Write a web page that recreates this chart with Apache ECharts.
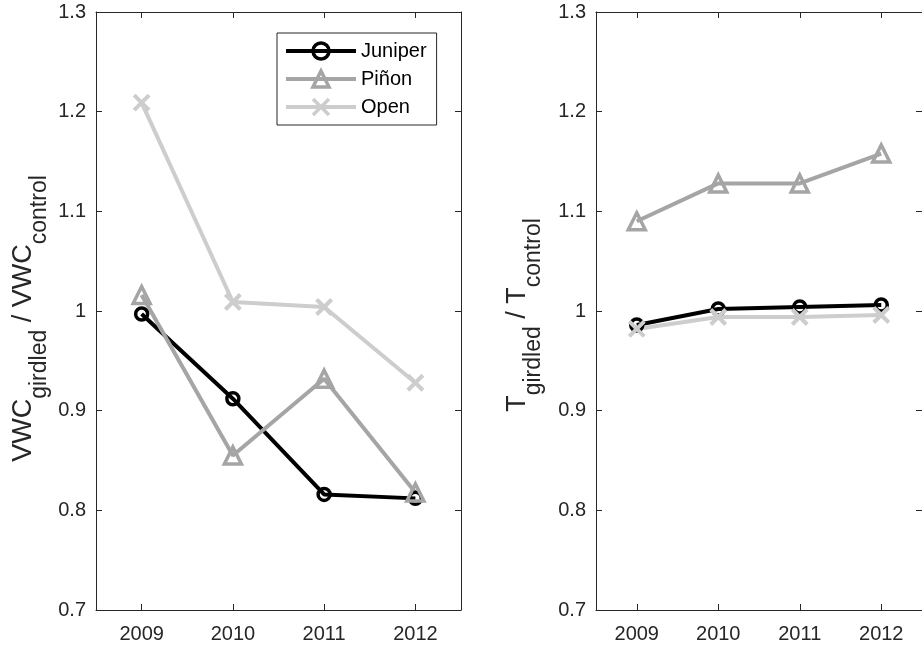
<!DOCTYPE html>
<html>
<head>
<meta charset="utf-8">
<script src="https://cdn.jsdelivr.net/npm/echarts@6/dist/echarts.min.js"></script>
<style>
html,body{margin:0;padding:0;background:#fff;}
#chart{width:922px;height:651px;}
</style>
</head>
<body>
<div id="chart"></div>
<script>
// ---- data ----
const years = ['2009', '2010', '2011', '2012'];
const seriesNames = ['Juniper', 'Piñon', 'Open'];
const vwcJuniper = [0.997, 0.912, 0.816, 0.812];
const vwcPinon   = [1.016, 0.855, 0.932, 0.818];
const vwcOpen    = [1.209, 1.009, 1.004, 0.928];
const tJuniper   = [0.986, 1.002, 1.004, 1.006];
const tPinon     = [1.090, 1.128, 1.128, 1.158];
const tOpen      = [0.982, 0.994, 0.994, 0.996];
const yTicks = { min: 0.7, max: 1.3, interval: 0.1 };

// ---- styles ----
const FONT = "'Liberation Sans', Arial, Helvetica, sans-serif";
const AX = '#262626';
const colors = ['#000000', '#a5a5a5', '#cdcdcd'];
const crossPath = 'path://M0,0L10,10M10,0L0,10';
const markers = [
  { symbol: 'circle', symbolSize: 12, borderWidth: 3.5 },
  { symbol: 'triangle', symbolSize: 17, borderWidth: 3.5 },
  { symbol: crossPath, symbolSize: 15, borderWidth: 4 }
];

const chart = echarts.init(document.getElementById('chart'), null, { renderer: 'canvas' });

const grids = [
  { left: 96, top: 12, width: 365, bottom: 41 },
  { left: 596, top: 12, width: 334, bottom: 41 }
];

function xAx(gi, top) {
  return {
    type: 'category', gridIndex: gi, data: years, boundaryGap: true,
    position: top ? 'top' : 'bottom',
    axisLine: { show: true, onZero: false, lineStyle: { color: AX, width: 1 } },
    axisTick: { show: true, inside: true, alignWithLabel: true, length: 6, lineStyle: { color: AX, width: 1 } },
    axisLabel: { show: !top, color: AX, fontSize: 20, fontFamily: FONT, margin: 14 },
    splitLine: { show: false }
  };
}
function richName(main1, sub1, main2, sub2, endStyle) {
  return '{m|' + main1 + '}{s|' + sub1 + '}{m| / ' + main2 + '}{' + endStyle + '|' + sub2 + '}';
}
const nameRich = {
  m: { fontSize: 27, fontFamily: FONT, color: AX },
  s: { fontSize: 23, fontFamily: FONT, color: AX, padding: [31, 0, 0, 0] },
  eL: { fontSize: 23, fontFamily: FONT, color: AX, padding: [31, 15, 0, 0] },
  eR: { fontSize: 23, fontFamily: FONT, color: AX, padding: [31, 8, 0, 0] }
};
function yAx(gi, right, name, gap) {
  return {
    type: 'value', gridIndex: gi,
    min: yTicks.min, max: yTicks.max, interval: yTicks.interval,
    position: right ? 'right' : 'left',
    name: right ? '' : name,
    nameLocation: 'middle', nameRotate: 90, nameGap: gap,
    nameTextStyle: { rich: nameRich },
    axisLine: { show: true, onZero: false, lineStyle: { color: AX, width: 1 } },
    axisTick: { show: true, inside: true, length: 6, lineStyle: { color: AX, width: 1 } },
    axisLabel: {
      show: !right, color: AX, fontSize: 20, fontFamily: FONT, margin: 10,
      formatter: v => String(+(+v).toFixed(1))
    },
    splitLine: { show: false }
  };
}

function mkSeries(name, idx, gi, data) {
  const m = markers[idx];
  return {
    name: name, type: 'line', xAxisIndex: gi, yAxisIndex: gi, data: data,
    symbol: m.symbol, symbolSize: m.symbolSize, showSymbol: true,
    lineStyle: { color: colors[idx], width: 4 },
    itemStyle: { color: 'rgba(255,255,255,0)', borderColor: colors[idx], borderWidth: m.borderWidth },
    emphasis: { disabled: true },
    animation: false
  };
}

const leftData = [vwcJuniper, vwcPinon, vwcOpen];
const rightData = [tJuniper, tPinon, tOpen];
const series = [];
seriesNames.forEach((n, i) => series.push(mkSeries(n, i, 0, leftData[i])));
seriesNames.forEach((n, i) => series.push(mkSeries(n, i, 1, rightData[i])));

const option = {
  backgroundColor: '#ffffff',
  animation: false,
  grid: grids,
  xAxis: [xAx(0, false), xAx(1, false), xAx(0, true), xAx(1, true)],
  yAxis: [
    yAx(0, false, richName('VWC', 'girdled', 'VWC', 'control', 'eL'), 45),
    yAx(1, false, richName('T', 'girdled', 'T', 'control', 'eR'), 51),
    yAx(0, true), yAx(1, true)
  ],
  legend: {
    data: seriesNames,
    orient: 'vertical',
    left: 277, top: 33,
    padding: [8, 10, 8, 7],
    itemWidth: 70, itemHeight: 20, itemGap: 8,
    backgroundColor: '#ffffff',
    borderColor: AX, borderWidth: 1,
    lineStyle: { width: 4 },
    itemStyle: { borderWidth: 3.5 },
    textStyle: { fontSize: 20, fontFamily: FONT, color: '#000', lineHeight: 20 },
    selectedMode: false
  },
  series: series
};
chart.setOption(option);
</script>
</body>
</html>
